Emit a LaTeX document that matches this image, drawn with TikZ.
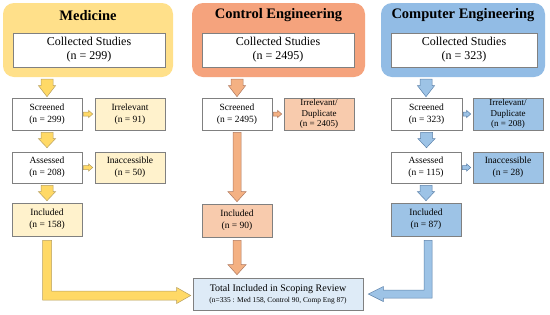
\documentclass[tikz,border=0pt]{standalone}
\usepackage{fontspec}
\setmainfont{Liberation Serif}
\usetikzlibrary{calc}
\definecolor{medpanel}{HTML}{FFE08A}
\definecolor{medbox}{HTML}{FFF2CC}
\definecolor{medarr}{HTML}{FFD966}
\definecolor{medline}{HTML}{B8A060}
\definecolor{ctlpanel}{HTML}{F5A37D}
\definecolor{ctlbox}{HTML}{F8CBAD}
\definecolor{ctlarr}{HTML}{F4B183}
\definecolor{ctlline}{HTML}{B07A60}
\definecolor{cmppanel}{HTML}{92BCE5}
\definecolor{cmpbox}{HTML}{9DC3E6}
\definecolor{cmparr}{HTML}{9DC3E6}
\definecolor{cmpline}{HTML}{5D82AA}
\definecolor{totbox}{HTML}{DEEBF7}
\definecolor{boxline}{HTML}{808080}
\newcommand\arrdown[6]{%
  \path[#6] let \p1=(#1), \p2=(#2) in
    (\x1-#3pt,\y1) -- (\x1+#3pt,\y1) -- (\x1+#3pt,\y2+#5pt) -- (\x1+#4pt,\y2+#5pt)
    -- (\x1,\y2) -- (\x1-#4pt,\y2+#5pt) -- (\x1-#3pt,\y2+#5pt) -- cycle;}
\newcommand\arrright[6]{%
  \path[#6] let \p1=(#1), \p2=(#2) in
    (\x1,\y1+#3pt) -- (\x2-#5pt,\y1+#3pt) -- (\x2-#5pt,\y1+#4pt) -- (\x2,\y1)
    -- (\x2-#5pt,\y1-#4pt) -- (\x2-#5pt,\y1-#3pt) -- (\x1,\y1-#3pt) -- cycle;}
\newcommand\arrLright[6]{%
  \path[#6] let \p1=(#1), \p2=(#2) in
    (\x1-#3pt,\y1) -- (\x1+#3pt,\y1) -- (\x1+#3pt,\y2+#3pt) -- (\x2-#5pt,\y2+#3pt)
    -- (\x2-#5pt,\y2+#4pt) -- (\x2,\y2) -- (\x2-#5pt,\y2-#4pt) -- (\x2-#5pt,\y2-#3pt)
    -- (\x1-#3pt,\y2-#3pt) -- cycle;}
\newcommand\arrLleft[6]{%
  \path[#6] let \p1=(#1), \p2=(#2) in
    (\x1-#3pt,\y1) -- (\x1+#3pt,\y1) -- (\x1+#3pt,\y2-#3pt) -- (\x2+#5pt,\y2-#3pt)
    -- (\x2+#5pt,\y2-#4pt) -- (\x2,\y2) -- (\x2+#5pt,\y2+#4pt) -- (\x2+#5pt,\y2+#3pt)
    -- (\x1-#3pt,\y2+#3pt) -- cycle;}
\begin{document}
\begin{tikzpicture}[x=1pt,y=-1pt,
  panel/.style={rounded corners=11pt,minimum height=74pt,inner sep=0pt},
  title/.style={font=\fontsize{14.5}{16}\selectfont\bfseries,inner sep=0pt},
  collbox/.style={draw=boxline,line width=0.6pt,fill=white,minimum height=34pt,align=center,
    font=\fontsize{12}{14}\selectfont,inner sep=0pt},
  stepbox/.style={draw=boxline,line width=0.6pt,minimum width=70pt,minimum height=32pt,align=center,
    font=\fontsize{9.5}{11.7}\selectfont,inner sep=0pt},
  dupbox/.style={stepbox,font=\fontsize{9}{10.4}\selectfont},
  medA/.style={fill=medarr,draw=medline,line width=0.5pt},
  ctlA/.style={fill=ctlarr,draw=ctlline,line width=0.5pt},
  cmpA/.style={fill=cmparr,draw=cmpline,line width=0.5pt}]
\useasboundingbox[fill=white] (0,0) rectangle (550,314);
% Medicine
\node[panel,fill=medpanel,minimum width=170pt] (panM) at (88,40) {};
\node[title] (titM) at (88,15.5) {Medicine};
\node[collbox,minimum width=152pt] (colM) at (89,50) {Collected Studies\\(n = 299)};
\node[stepbox,fill=white] (scrM) at (47,114) {Screened\\(n = 299)};
\node[stepbox,fill=medbox] (irrM) at (130,114) {Irrelevant\\(n = 91)};
\node[stepbox,fill=white,minimum height=31pt] (assM) at (47,167.5) {Assessed\\(n = 208)};
\node[stepbox,fill=medbox,minimum height=31pt] (inaM) at (130,167.5) {Inaccessible\\(n = 50)};
\node[stepbox,fill=medbox,minimum height=33pt] (incM) at (47,219.5) {Included\\(n = 158)};
% Control
\node[panel,fill=ctlpanel,minimum width=173pt] (panC) at (278.5,40) {};
\node[title] (titC) at (278.5,15.5) {Control Engineering};
\node[collbox,minimum width=152pt] (colC) at (278,50) {Collected Studies\\(n = 2495)};
\node[stepbox,fill=white] (scrC) at (237,114) {Screened\\(n = 2495)};
\node[dupbox,fill=ctlbox] (irrC) at (319,114) {Irrelevant/\\Duplicate\\(n = 2405)};
\node[stepbox,fill=ctlbox,minimum height=33pt] (incC) at (237,220.5) {Included\\(n = 90)};
% Computer
\node[panel,fill=cmppanel,minimum width=164pt] (panP) at (463,40) {};
\node[title] (titP) at (463,15.5) {Computer Engineering};
\node[collbox,minimum width=146pt] (colP) at (464,50) {Collected Studies\\(n = 323)};
\node[stepbox,fill=white,minimum width=71pt] (scrP) at (426.5,114) {Screened\\(n = 323)};
\node[dupbox,fill=cmpbox] (irrP) at (508,114) {Irrelevant/\\Duplicate\\(n = 208)};
\node[stepbox,fill=white,minimum height=31pt] (assP) at (426,167.5) {Assessed\\(n = 115)};
\node[stepbox,fill=cmpbox,minimum height=31pt] (inaP) at (508,167.5) {Inaccessible\\(n = 28)};
\node[stepbox,fill=cmpbox,minimum height=33pt] (incP) at (426,219.5) {Included\\(n = 87)};
% Total
\node[draw=boxline,line width=0.6pt,fill=totbox,minimum width=170pt,minimum height=32pt,
  inner sep=0pt,align=center] (tot) at (278,294)
  {{\fontsize{10}{12}\selectfont Total Included in Scoping Review}\\[-1pt]
   {\fontsize{7.4}{9}\selectfont (n=335 : Med 158, Control 90, Comp Eng 87)}};
% Medicine arrows
\arrdown{$(panM.south)+(-41,2)$}{$(scrM.north)+(0,-1)$}{6}{8.5}{11}{medA}
\arrright{$(scrM.east)+(1,0)$}{$(irrM.west)+(-2,0)$}{2}{3.5}{4}{medA}
\arrdown{$(scrM.south)+(0,2)$}{$(assM.north)+(0,-4)$}{6}{8.5}{9}{medA}
\arrright{$(assM.east)+(1,0)$}{$(inaM.west)+(-2,0)$}{2}{3.5}{4}{medA}
\arrdown{$(assM.south)+(0,2)$}{$(incM.north)+(0,-2)$}{6}{8.5}{9}{medA}
\arrLright{$(incM.south)+(0,4)$}{$(tot.west)+(-2,1.5)$}{4.5}{8}{14}{medA}
% Control arrows
\arrdown{$(panC.south)+(-41.5,2)$}{$(scrC.north)+(0,-1)$}{6}{8.5}{11}{ctlA}
\arrright{$(scrC.east)+(1,0)$}{$(irrC.west)+(-2,0)$}{2}{3.5}{4}{ctlA}
\arrdown{$(scrC.south)+(0,2)$}{$(incC.north)+(0,-2)$}{4}{9}{10}{ctlA}
\arrdown{$(incC.south)+(0,3)$}{$(tot.north)+(-41,-3)$}{4}{9}{10}{ctlA}
% Computer arrows
\arrdown{$(panP.south)+(-37,2)$}{$(scrP.north)+(0,-1)$}{6}{8.5}{11}{cmpA}
\arrright{$(scrP.east)+(1,0)$}{$(irrP.west)+(-2,0)$}{2}{3.5}{4}{cmpA}
\arrdown{$(scrP.south)+(0,2)$}{$(assP.north)+(0,-4)$}{6}{8.5}{9}{cmpA}
\arrright{$(assP.east)+(1,0)$}{$(inaP.west)+(-2,0)$}{2}{3.5}{4}{cmpA}
\arrdown{$(assP.south)+(0,2)$}{$(incP.north)+(0,-2)$}{6}{8.5}{9}{cmpA}
\arrLleft{$(incP.south)+(2,4)$}{$(tot.east)+(5,0)$}{4}{7.5}{15}{cmpA}
\end{tikzpicture}
\end{document}
